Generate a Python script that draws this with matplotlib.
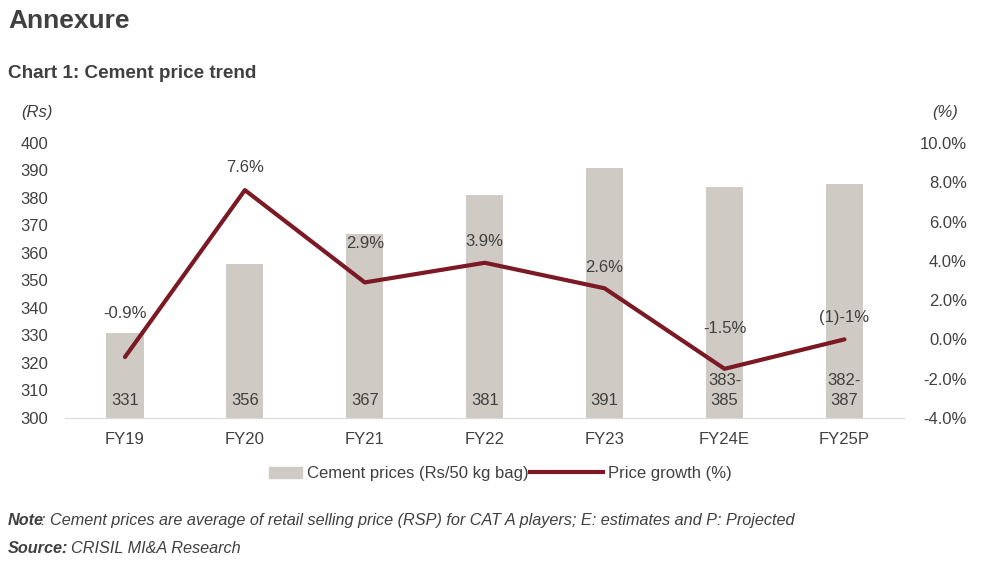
import matplotlib
matplotlib.use("Agg")
import matplotlib.pyplot as plt
from matplotlib.lines import Line2D
from matplotlib.patches import Patch, Rectangle
from matplotlib.legend_handler import HandlerPatch

plt.rcParams["font.family"] = ["Liberation Sans", "DejaVu Sans"]

# data
years = ["FY19", "FY20", "FY21", "FY22", "FY23", "FY24E", "FY25P"]
prices = [331, 356, 367, 381, 391, 384, 385]
price_labels = ["331", "356", "367", "381", "391", "383-\n385", "382-\n387"]
growth = [-0.9, 7.6, 2.9, 3.9, 2.6, -1.5, 0.0]
growth_labels = ["-0.9%", "7.6%", "2.9%", "3.9%", "2.6%", "-1.5%", "(1)-1%"]

BAR_C = "#cfcac3"
LINE_C = "#7b1a25"
TXT = "#404040"

fig = plt.figure(figsize=(9.91, 5.64), dpi=100)
ax = fig.add_axes([0.0656, 0.259, 0.847, 0.4875])
ax2 = ax.twinx()

x = list(range(len(years)))
ax.bar(x, prices, width=0.31, color=BAR_C, zorder=1)
ax.set_ylim(300, 400)
ax.set_yticks(range(300, 401, 10))
ax.set_xlim(-0.5, len(years) - 0.5)
ax.set_xticks(x)
ax.set_xticklabels(years)

ax2.plot(x, growth, color=LINE_C, lw=3, solid_capstyle="round", zorder=3)
ax2.set_ylim(-4, 10)
ax2.set_yticks(range(-4, 11, 2))
ax2.set_yticklabels([f"{v:.1f}%" for v in range(-4, 11, 2)])

for a in (ax, ax2):
    for s in a.spines.values():
        s.set_visible(False)
    a.tick_params(length=0, labelsize=12, colors=TXT)
ax.spines["bottom"].set_visible(True)
ax.spines["bottom"].set_color("#d9d9d9")
ax.tick_params(axis="y", pad=12)
ax.tick_params(axis="x", pad=10)
ax2.tick_params(axis="y", pad=45)
for t in ax2.get_yticklabels():
    t.set_horizontalalignment("right")

# bar labels at base
for xi, lab in zip(x, price_labels):
    ax.text(xi, 303.6, lab, ha="center", va="bottom", fontsize=12, color=TXT,
            linespacing=1.45, zorder=4)

# line labels (offset in points above each point)
offsets = [31, 16, 28, 15, 15, 29, 16]
for xi, g, lab, off in zip(x, growth, growth_labels, offsets):
    ax2.annotate(lab, (xi, g), xytext=(0, off), textcoords="offset points",
                 ha="center", va="center", fontsize=12, color=TXT, zorder=5)

fig.text(0.0374, 0.8, "(Rs)", style="italic", fontsize=12, color=TXT, ha="center", va="center")
fig.text(0.954, 0.8, "(%)", style="italic", fontsize=12, color=TXT, ha="center", va="center")

fig.text(0.008, 0.963, "Annexure", fontsize=19, fontweight="bold", color=TXT, va="center")
fig.text(0.008, 0.87, "Chart 1: Cement price trend", fontsize=13.6, fontweight="bold",
         color=TXT, va="center")


def narrow_patch(legend, orig_handle, xdescent, ydescent, width, height, fontsize):
    w = width * 0.45
    return Rectangle((-xdescent + width - w, -ydescent), w, height)


handles = [Patch(color=BAR_C), Line2D([0], [0], color=LINE_C, lw=3)]
fig.legend(handles, ["Cement prices (Rs/50 kg bag)", "Price growth (%)"],
           loc="center", bbox_to_anchor=(0.4845, 0.16), ncol=2, frameon=False,
           fontsize=12, labelcolor=TXT, handlelength=4.4, handletextpad=0.3,
           columnspacing=0.1,
           handler_map={Patch: HandlerPatch(patch_func=narrow_patch)})

fig.text(0.008, 0.077, "Note", fontsize=11.7, fontweight="bold", style="italic",
         color=TXT, va="center")
fig.text(0.041, 0.077, ": Cement prices are average of retail selling price (RSP) for CAT A players; "
         "E: estimates and P: Projected", fontsize=11.7, style="italic", color=TXT,
         va="center")
fig.text(0.008, 0.027, "Source:", fontsize=11.7, fontweight="bold", style="italic",
         color=TXT, va="center")
fig.text(0.072, 0.027, "CRISIL MI&A Research", fontsize=11.7, style="italic",
         color=TXT, va="center")

fig.savefig("out.png", dpi=100)
